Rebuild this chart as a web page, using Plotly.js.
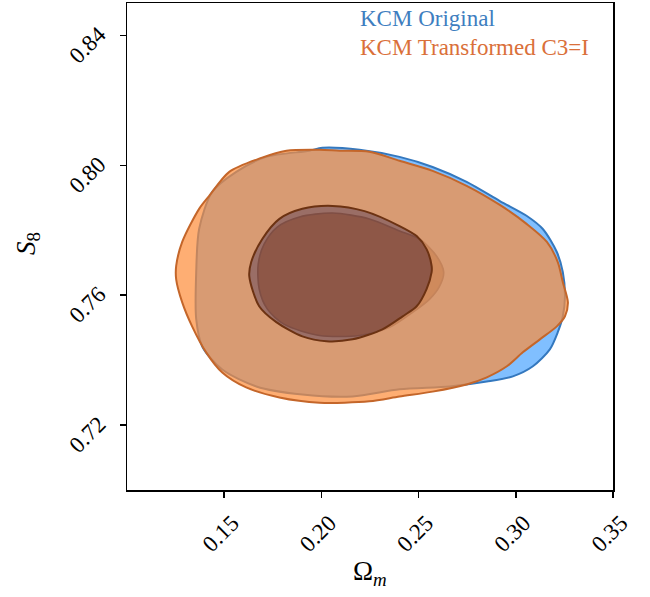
<!DOCTYPE html>
<html>
<head>
<meta charset="utf-8">
<script src="https://cdn.plot.ly/plotly-3.0.1.min.js"></script>
<style>html,body{margin:0;padding:0;background:#fff;}#chart{width:650px;height:597px;}</style>
</head>
<body>
<div id="chart"></div>
<script>
// Contour outlines (Omega_m, S8)
var blueOuterX = [0.1716,0.1938,0.2005,0.2196,0.2402,0.2572,0.2747,0.2918,0.3057,0.3139,0.3211,0.3242,0.3253,0.3242,0.3216,0.3175,0.3088,0.2985,0.2851,0.2660,0.2402,0.2160,0.1902,0.1665,0.1490,0.1387,0.1356,0.1356,0.1371,0.1438,0.1562];
var blueOuterY = [0.8026,0.8045,0.8054,0.8048,0.8026,0.7995,0.7949,0.7890,0.7844,0.7804,0.7733,0.7671,0.7597,0.7535,0.7486,0.7433,0.7381,0.7350,0.7334,0.7319,0.7310,0.7288,0.7294,0.7319,0.7371,0.7442,0.7526,0.7671,0.7804,0.7918,0.7980];
var blueInnerX = [0.2057,0.1887,0.1773,0.1706,0.1675,0.1680,0.1722,0.1809,0.1990,0.2196,0.2351,0.2469,0.2557,0.2608,0.2629,0.2593,0.2505,0.2402,0.2247];
var blueInnerY = [0.7853,0.7841,0.7810,0.7758,0.7696,0.7619,0.7557,0.7510,0.7476,0.7476,0.7501,0.7547,0.7588,0.7628,0.7671,0.7720,0.7773,0.7798,0.7835];
var orangeOuterX = [0.1691,0.1820,0.1990,0.2093,0.2247,0.2402,0.2572,0.2747,0.2918,0.3057,0.3160,0.3216,0.3242,0.3268,0.3253,0.3211,0.3124,0.3036,0.2954,0.2851,0.2747,0.2572,0.2402,0.2247,0.1990,0.1784,0.1613,0.1490,0.1407,0.1335,0.1284,0.1253,0.1253,0.1284,0.1371,0.1423,0.1526];
var orangeOuterY = [0.8023,0.8045,0.8048,0.8045,0.8042,0.8014,0.7983,0.7937,0.7878,0.7819,0.7764,0.7702,0.7640,0.7578,0.7535,0.7504,0.7464,0.7424,0.7381,0.7347,0.7325,0.7303,0.7288,0.7273,0.7269,0.7285,0.7316,0.7362,0.7424,0.7504,0.7578,0.7649,0.7690,0.7764,0.7866,0.7906,0.7980];
var orangeInnerX = [0.2057,0.1902,0.1784,0.1696,0.1639,0.1629,0.1680,0.1768,0.1902,0.2026,0.2160,0.2314,0.2418,0.2490,0.2541,0.2567,0.2567,0.2541,0.2490,0.2402,0.2222];
var orangeInnerY = [0.7875,0.7866,0.7835,0.7773,0.7702,0.7659,0.7566,0.7517,0.7473,0.7458,0.7464,0.7495,0.7535,0.7566,0.7619,0.7671,0.7690,0.7742,0.7782,0.7813,0.7859];

var seriesNames = ["KCM Original", "KCM Transformed C3=I"];
var xTicks = [0.15, 0.20, 0.25, 0.30, 0.35];
var yTicks = [0.72, 0.76, 0.80, 0.84];

function closed(a){ return a.concat([a[0]]); }
// outer contours run clockwise on screen, inner ones anticlockwise -> inner becomes a hole
function ring(ox, oy, ix, iy){
  return {x: closed(ox).concat([null]).concat(closed(ix)),
          y: closed(oy).concat([null]).concat(closed(iy))};
}
var SM = 0.8;
function fillTrace(x, y, color){
  return {x:x, y:y, type:'scatter', mode:'lines', fill:'toself', fillcolor:color,
          line:{width:0, shape:'spline', smoothing:SM}, hoverinfo:'skip', showlegend:false};
}
function lineTrace(x, y, color, w){
  return {x:closed(x), y:closed(y), type:'scatter', mode:'lines',
          line:{color:color, width:w, shape:'spline', smoothing:SM}, hoverinfo:'skip', showlegend:false};
}
var bRing = ring(blueOuterX, blueOuterY, blueInnerX, blueInnerY);
var oRing = ring(orangeOuterX, orangeOuterY, orangeInnerX, orangeInnerY);

var data = [
  fillTrace(bRing.x, bRing.y, 'rgb(128,191,255)'),
  fillTrace(closed(blueInnerX), closed(blueInnerY), 'rgb(97,133,178)'),
  lineTrace(blueOuterX, blueOuterY, 'rgb(52,120,190)', 2),
  lineTrace(blueInnerX, blueInnerY, 'rgb(60,110,170)', 1.6),
  fillTrace(oRing.x, oRing.y, 'rgba(254,140,56,0.7)'),
  fillTrace(closed(orangeInnerX), closed(orangeInnerY), 'rgba(171,56,0,0.6)'),
  lineTrace(orangeOuterX, orangeOuterY, 'rgb(196,102,42)', 2),
  lineTrace(orangeInnerX, orangeInnerY, 'rgb(108,50,18)', 2)
];

var serif = '"Liberation Serif", "DejaVu Serif", serif';
var layout = {
  width:650, height:597,
  margin:{l:127, r:37, t:3, b:107},
  paper_bgcolor:'#fff', plot_bgcolor:'#fff',
  showlegend:false,
  font:{family:serif, color:'#000', size:22},
  xaxis:{range:[0.10,0.35], tickvals:xTicks, tickformat:'.2f', tickangle:-45,
    ticks:'outside', ticklen:6, tickwidth:1.5, tickcolor:'#000',
    ticklabelshift:8, ticklabelstandoff:3,
    showline:true, linecolor:'#000', linewidth:1.5, mirror:true,
    showgrid:false, zeroline:false, tickfont:{family:serif, size:23}},
  yaxis:{range:[0.70,0.85], tickvals:yTicks, tickformat:'.2f', tickangle:-45,
    ticks:'outside', ticklen:6, tickwidth:1.5, tickcolor:'#000',
    ticklabelshift:-4, ticklabelstandoff:16,
    showline:true, linecolor:'#000', linewidth:1.5, mirror:true,
    showgrid:false, zeroline:false, tickfont:{family:serif, size:23}},
  annotations:[
    {text:seriesNames[0], xref:'paper', yref:'paper', x:0.475, y:0.969, xanchor:'left', yanchor:'middle',
     showarrow:false, font:{family:serif, size:23, color:'rgb(62,126,192)'}},
    {text:seriesNames[1], xref:'paper', yref:'paper', x:0.475, y:0.908, xanchor:'left', yanchor:'middle',
     showarrow:false, font:{family:serif, size:23, color:'rgb(218,112,58)'}},
    {text:'Ω<sub><i>m</i></sub>', xref:'paper', yref:'paper', x:0.5, y:-0.17, xanchor:'center', yanchor:'middle',
     showarrow:false, font:{family:serif, size:27, color:'#000'}},
    {text:'<i>S</i><sub>8</sub>', xref:'paper', yref:'paper', x:-0.204, y:0.507, xanchor:'center', yanchor:'middle',
     textangle:-90, showarrow:false, font:{family:serif, size:27, color:'#000'}}
  ]
};
Plotly.newPlot('chart', data, layout, {displayModeBar:false, staticPlot:true});
</script>
</body>
</html>
